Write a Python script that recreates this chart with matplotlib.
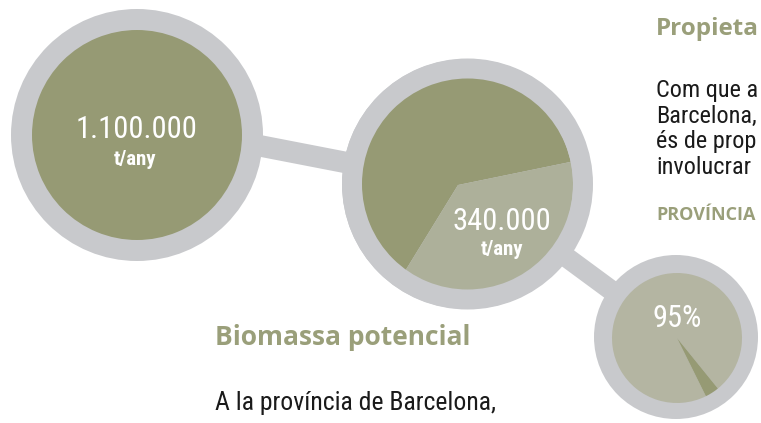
import matplotlib
matplotlib.use('Agg')
import matplotlib.pyplot as plt
from matplotlib import font_manager
from matplotlib.patches import Circle, Wedge

# values
value_labels = ['1.100.000', '340.000', '95%']
unit_labels = ['t/any', 't/any', '']
share_total = [100]            # full biomass circle
share_available = [63, 37]     # dark part, light part
share_owned = [96.5, 3.5]      # light part, dark part

title_left = 'Biomassa potencial'
body_left = ['A la província de Barcelona,']
title_right = 'Propieta'
body_right = ['Com que a', 'Barcelona,', 'és de prop', 'involucrar']
caps_right = 'PROVÍNCIA'

# colours
ring_grey = '#c8c9cc'
olive_dark = '#969a74'
olive_light = '#adb09a'
olive_pale = '#b4b5a2'
title_olive = '#9a9f7a'

H = 423  # image height, used to flip picture coordinates


def pick_font(names):
    installed = {f.name for f in font_manager.fontManager.ttflist}
    for n in names:
        if n in installed:
            return n
    return 'DejaVu Sans'


narrow = pick_font(['Liberation Sans Narrow', 'Arial Narrow', 'Roboto Condensed',
                    'Liberation Sans'])
heading = pick_font(['Open Sans', 'Noto Sans', 'Lato'])
narrow_stretch = 'normal' if 'Narrow' in narrow or 'Condensed' in narrow else 'condensed'

fig = plt.figure(figsize=(7.61, 4.23), dpi=100)
ax = fig.add_axes([0, 0, 1, 1])


def disc(cx, cy, r, color, z):
    ax.add_patch(Circle((cx, H - cy), r, facecolor=color, edgecolor='none', zorder=z))


def annulus(cx, cy, r_out, r_in, color, z):
    ax.add_patch(Wedge((cx, H - cy), r_out, 0, 360, width=r_out - r_in,
                       facecolor=color, edgecolor='none', zorder=z))


# connectors between the circles
ax.plot([137, 467], [H - 122, H - 186], color=ring_grey, lw=15.5,
        solid_capstyle='butt', zorder=1)
ax.plot([467, 676], [H - 184, H - 338], color=ring_grey, lw=14.5,
        solid_capstyle='butt', zorder=1)

# circle 1 - total biomass
disc(137, 135, 126, ring_grey, 2)
w1, _ = ax.pie(share_total, colors=[olive_dark], radius=105,
               center=(137, H - 135), wedgeprops=dict(linewidth=0))
for w in w1:
    w.set_zorder(3)

# circle 2 - available part (wedge vertex sits a little left of centre,
# the grey ring is laid on top to trim the pie)
disc(467, 184, 125, ring_grey, 2)
w2, _ = ax.pie(share_available, colors=[olive_dark, olive_light], radius=115,
               startangle=11.6, center=(458, H - 185),
               wedgeprops=dict(linewidth=0))
for w in w2:
    w.set_zorder(3)
annulus(467.5, 184, 125.5, 105.5, ring_grey, 4)

# circle 3 - ownership
disc(676, 337, 82, ring_grey, 2)
w3, _ = ax.pie(share_owned, colors=[olive_pale, olive_dark], radius=65,
               startangle=-51, center=(677, H - 338),
               wedgeprops=dict(linewidth=0))
for w in w3:
    w.set_zorder(3)

# numbers in the circles
num_kw = dict(color='white', ha='center', va='baseline', fontsize=22,
              family=narrow, stretch=narrow_stretch, zorder=5)
unit_kw = dict(color='white', ha='center', va='baseline', fontsize=15,
               family=narrow, stretch=narrow_stretch, weight='bold', zorder=5)
num_pos = [(136, 138), (502, 230), (677, 327)]
unit_pos = [(135, 165), (502, 255), (677, 0)]
for lab, unit, (nx, ny), (ux, uy) in zip(value_labels, unit_labels, num_pos, unit_pos):
    ax.text(nx, H - ny, lab, **num_kw)
    if unit:
        ax.text(ux, H - uy, unit, **unit_kw)

# side texts
head_kw = dict(color=title_olive, ha='left', va='baseline', fontsize=19,
               family=heading, weight='bold', zorder=5)
body_kw = dict(color='#1a1a1a', ha='left', va='baseline', fontsize=18.5,
               family=narrow, stretch=narrow_stretch, zorder=5)

ax.text(215, H - 345, title_left, **head_kw)
for i, line in enumerate(body_left):
    ax.text(215, H - 410 - 26 * i, line, **body_kw)

# right column runs against the picture edge
ax.text(656, H - 35, title_right, **dict(head_kw, fontsize=17.5))
for i, line in enumerate(body_right):
    ax.text(656, H - (97 + 25.7 * i), line, **dict(body_kw, fontsize=17.5))
ax.text(656, H - 220, caps_right, color=title_olive, ha='left', va='baseline',
        fontsize=13, family=heading, weight='bold', zorder=5)

ax.set_xlim(0, 761)
ax.set_ylim(0, H)
ax.set_aspect('auto')
ax.axis('off')

fig.savefig('out.png', dpi=100, facecolor='white')
